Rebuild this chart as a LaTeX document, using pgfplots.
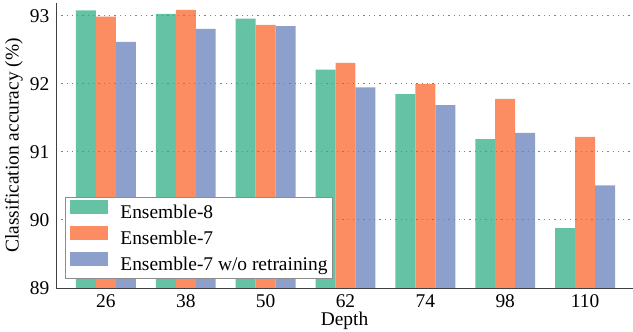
\documentclass[border=0pt]{standalone}
\usepackage{fontspec}
\setmainfont{Liberation Serif}
\usepackage{pgfplots}
\pgfplotsset{compat=1.18}
\definecolor{cA}{HTML}{66C2A5}
\definecolor{cB}{HTML}{FC8D62}
\definecolor{cC}{HTML}{8DA0CB}
\begin{document}
\rmfamily\fontsize{19.5}{23}\selectfont
\begin{tikzpicture}
\begin{axis}[
  scale only axis,
  width=577bp, height=285bp,
  xmin=-0.625, xmax=6.6,
  ymin=89, ymax=93.19,
  ybar=0pt, bar width=0.25,
  xtick={0,1,2,3,4,5,6},
  xticklabels={26,38,50,62,74,98,110},
  ytick={89,90,91,92,93},
  axis lines*=left,
  axis line style={black!75, line width=0.8pt},
  major tick length=0pt,
  ymajorgrids,
  grid style={dash pattern=on 1.3bp off 4bp, black!50, line width=1pt},
  axis on top,
  /pgf/number format/assume math mode=true,
  tick label style={font=\rmfamily\fontsize{19.5}{23}\selectfont},
  label style={font=\rmfamily\fontsize{19.5}{23}\selectfont},
  xlabel={Depth},
  ylabel={Classification accuracy (\%)},
  xlabel style={yshift=9bp},
  ylabel style={yshift=-6bp},
  legend style={at={(0.0156,0.032)}, anchor=south west, draw=black!45, line width=0.8pt, fill=white,
    font=\rmfamily\fontsize{19.5}{23}\selectfont, row sep=3bp, inner xsep=3bp, inner ysep=3bp},
  legend cell align=left,
  legend image code/.code={\fill[#1] (0bp,-1bp) rectangle (38bp,13bp); \path (-2bp,0bp) (48bp,0bp);},
]
\addplot[fill=cA, draw=none] coordinates {(0,93.08) (1,93.03) (2,92.96) (3,92.21) (4,91.85) (5,91.19) (6,89.88)};
\addplot[fill=cB, draw=none] coordinates {(0,92.99) (1,93.09) (2,92.87) (3,92.31) (4,92.00) (5,91.78) (6,91.22)};
\addplot[fill=cC, draw=none] coordinates {(0,92.62) (1,92.81) (2,92.85) (3,91.95) (4,91.69) (5,91.28) (6,90.51)};
\legend{Ensemble-8, Ensemble-7, Ensemble-7 w/o retraining}
\end{axis}
\pgfresetboundingbox
\useasboundingbox ([xshift=-56bp,yshift=-44bp]current axis.south west) rectangle ([yshift=3bp]current axis.north east);
\end{tikzpicture}
\end{document}
